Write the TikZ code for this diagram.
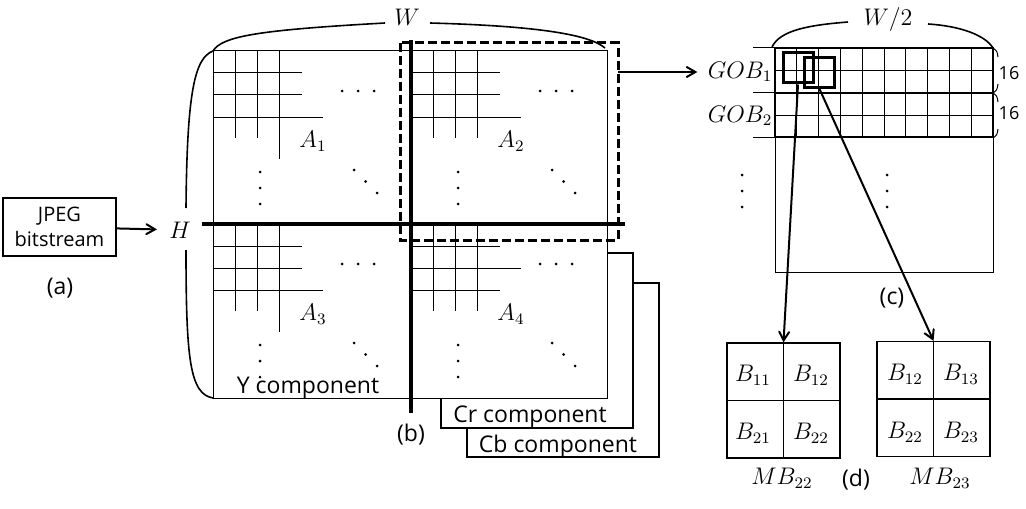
\documentclass[tikz,border=0pt]{standalone}
\usepackage{fontspec}
\setmainfont{Open Sans}
\usepackage{amsmath}
\usetikzlibrary{shapes}
\usetikzlibrary{arrows}
\tikzset{
  txt/.style={font=\fontsize{11.5}{13}\selectfont,inner sep=0pt},
  lbl/.style={font=\fontsize{12}{14}\selectfont,inner sep=0pt},
  thin grid/.style={line width=0.5pt},
  comp box/.style={draw,line width=0.9pt,fill=white},
  brace/.style={line width=0.8pt},
  cross/.style={line width=2pt},
  gob line/.style={line width=1pt},
  sel box/.style={draw,line width=1.5pt,minimum width=15pt,minimum height=15pt,inner sep=0pt},
  mb grid/.style={draw,line width=0.6pt,minimum width=56.5pt,minimum height=57.5pt,inner sep=0pt}
}
% one quarter of the Y plane: origin, index, long row, length of third column
\newcommand{\quadgrid}[5]{%
  \begin{scope}[shift={(#1,#2)}]
    \foreach \k in {22,44,66} {
      \pgfmathsetmacro{\hl}{\k==#4 ? 110 : 89}
      \draw[thin grid] (0,\k) -- (\hl,\k);
    }
    \draw[thin grid] (22,0) -- (22,87) (44,0) -- (44,87) (66,0) -- (66,#5);
    \node[lbl] at (100,90) {$A_{#3}$};
    \foreach \d in {0,16,32} {
      \fill (129+\d,40) circle (1.5);
      \fill (47,121+\d) circle (1.5);
    }
    \foreach \d in {0,1,2} \fill (141+11.5*\d,119+11.5*\d) circle (1.5);
  \end{scope}}

\begin{document}
\begin{tikzpicture}[x=0.5pt,y=-0.5pt,>=angle 60]
  \useasboundingbox (0,0) rectangle (1026,508);

  % (a) input
  \node[draw,line width=1pt,minimum width=56.5pt,minimum height=29pt,align=center,
        font=\fontsize{10}{12.5}\selectfont,inner sep=0pt] (jpeg) at (59.5,227) {JPEG\\bitstream};
  \node[txt] (la) at (60,288) {(a)};
  \node[lbl] (hlab) at (180,230) {$H$};
  \draw[->,line width=1pt,shorten >=6pt] (jpeg) -- (hlab);

  % (b) the three components, back to front
  \draw[comp box] (467,283) rectangle (659,457);
  \node[txt] (cb) at (558,447) {Cb component};
  \draw[comp box] (441,253) rectangle (633,428);
  \node[txt] (cr) at (530,417) {Cr component};
  \draw[thin grid,fill=white] (213,51) rectangle (607,398);
  \node[txt] (ycomp) at (308,388) {Y component};

  \quadgrid{213}{51}{1}{66}{108}
  \quadgrid{411}{51}{2}{66}{87}
  \quadgrid{213}{224}{3}{66}{108}
  \quadgrid{411}{224}{4}{44}{87}

  \draw[cross] (411,40) -- (411,413);
  \draw[cross] (202,224) -- (625,224);
  \draw[line width=1.5pt,dash pattern=on 4.5pt off 2pt] (400,43) rectangle (618,240);
  \coordinate (dashE) at (618,72);
  \node[txt] (lb) at (411,435) {(b)};

  % braces
  \node[lbl] (wlab) at (407,17) {$W$};
  \draw[brace] (213,51) .. controls (222,36) and (260,30) .. (385,23);
  \draw[brace] (430,23) .. controls (540,26) and (590,35) .. (605,48);
  \draw[brace] (213,51) .. controls (195,58) and (187,90) .. (186,208);
  \draw[brace] (186,250) .. controls (186,360) and (190,394) .. (213,398);

  % (c) GOBs
  \node[lbl] (gob1) at (740,72) {$GOB_1$};
  \node[lbl] (gob2) at (740,116) {$GOB_2$};
  \draw[->,line width=1pt,shorten >=5pt] (dashE) -- (gob1);
  \draw[thin grid] (775,48) rectangle (993,272);
  \foreach \c in {1,...,9} \draw[thin grid] (775+21.8*\c,48) -- (775+21.8*\c,137);
  \foreach \y in {71,115} \draw[thin grid] (775,\y) -- (993,\y);
  \foreach \y in {48,93,137} \draw[thin grid] (753,\y) -- (775,\y);
  \draw[gob line] (775,48) rectangle (993,93);
  \draw[gob line] (775,93) rectangle (993,137);
  \foreach \d in {0,16,32} {
    \fill (742,175+\d) circle (1.5);
    \fill (887,175+\d) circle (1.5);
  }
  \node[lbl] (whalf) at (888,20) {$W/2$};
  \draw[brace] (772,47) .. controls (780,30) and (810,25) .. (848,22);
  \draw[brace] (928,24) .. controls (960,26) and (985,35) .. (993,48);
  \foreach \y in {48,93} {
    \draw[thin grid] (993,\y) .. controls (997,\y+3) .. (998,\y+9);
    \draw[thin grid] (998,\y+36) .. controls (997,\y+42) .. (993,\y+45);
  }
  \node[font=\fontsize{9}{11}\selectfont,inner sep=0pt] (n1) at (1009,73) {16};
  \node[font=\fontsize{9}{11}\selectfont,inner sep=0pt] (n2) at (1009,113) {16};
  \node[txt] (lc) at (892,298) {(c)};

  % (d) macroblocks
  \node[sel box] (sel22) at (798,68) {};
  \node[sel box] (sel23) at (819.5,72.5) {};
  \node[mb grid] (grid22) at (783.5,400.5) {};
  \node[mb grid] (grid23) at (933.5,399) {};
  \draw[line width=0.6pt] (grid22.north) -- (grid22.south) (grid22.west) -- (grid22.east);
  \draw[line width=0.6pt] (grid23.north) -- (grid23.south) (grid23.west) -- (grid23.east);
  \draw[->,line width=1pt] (sel22.south) -- (grid22.north);
  \draw[->,line width=1pt] (sel23.south) -- (grid23.north);
  \node[lbl] at (753,375) {$B_{11}$};
  \node[lbl] at (811,375) {$B_{12}$};
  \node[lbl] at (753,433) {$B_{21}$};
  \node[lbl] at (811,433) {$B_{22}$};
  \node[lbl] at (905,374) {$B_{12}$};
  \node[lbl] at (961,374) {$B_{13}$};
  \node[lbl] at (905,432) {$B_{22}$};
  \node[lbl] at (961,432) {$B_{23}$};
  \node[lbl] (mb22) at (782,478) {$MB_{22}$};
  \node[lbl] (mb23) at (940,478) {$MB_{23}$};
  \node[txt] (ld) at (856,480) {(d)};
\end{tikzpicture}
\end{document}
